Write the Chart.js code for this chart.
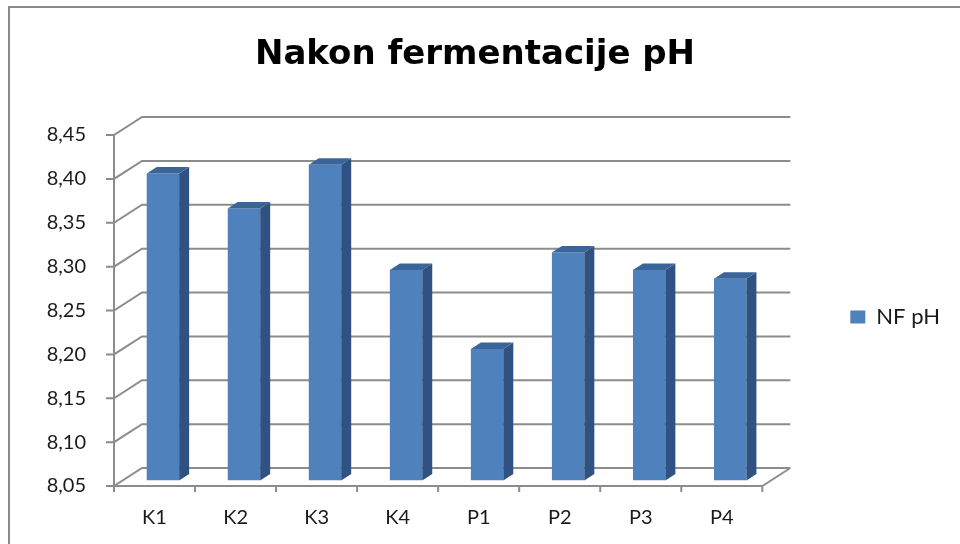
<!DOCTYPE html>
<html>
<head>
<meta charset="utf-8">
<script src="https://cdn.jsdelivr.net/npm/chart.js@4.4.0/dist/chart.umd.min.js"></script>
<style>
  html, body { margin: 0; padding: 0; background: #fff; }
  #wrap { position: relative; width: 960px; height: 544px; }
  #frame { position: absolute; left: 8px; top: 6px; right: 0; bottom: 0; border-top: 2px solid #8a8a8a; border-left: 2px solid #8a8a8a; pointer-events: none; }
</style>
</head>
<body>
<div id="wrap">
  <canvas id="myBarChart" width="960" height="544"></canvas>
  <div id="frame"></div>
</div>
<script>
let categories = ['K1', 'K2', 'K3', 'K4', 'P1', 'P2', 'P3', 'P4'];
let nfPh = [8.40, 8.36, 8.41, 8.29, 8.20, 8.31, 8.29, 8.28];
let yTicks = [8.05, 8.10, 8.15, 8.20, 8.25, 8.30, 8.35, 8.40, 8.45];

// fake 3d: back wall offset, bar offset and bar depth
const depthX = 28, depthY = 18;
const shiftX = 8.4, shiftY = -5.4;
const barDX = 10, barDY = 6.5;
const gridColor = '#8c8c8c';
const textColor = '#1a1a1a';

let box3d = {
    id: 'box3d',
    beforeDatasetsDraw(chart) {
        let c = chart.ctx, a = chart.chartArea, y = chart.scales.y;
        c.save();
        c.strokeStyle = gridColor;
        c.lineWidth = 2;
        c.beginPath();
        yTicks.forEach(v => {
            let py = y.getPixelForValue(v);
            c.moveTo(a.left - 8, py);
            c.lineTo(a.left, py);
            c.lineTo(a.left + depthX, py - depthY);
            c.lineTo(a.right + depthX, py - depthY);
        });
        c.moveTo(a.left, a.top);
        c.lineTo(a.left, a.bottom);
        c.lineTo(a.right, a.bottom);
        c.lineTo(a.right + depthX, a.bottom - depthY);
        for (let i = 0; i <= categories.length; i++) {
            let px = a.left + i * (a.right - a.left) / categories.length;
            c.moveTo(px, a.bottom);
            c.lineTo(px, a.bottom + 6);
        }
        c.stroke();
        c.restore();
        c.save();
        c.translate(shiftX, shiftY);
    },
    afterDatasetsDraw(chart) {
        let c = chart.ctx;
        c.restore();
        chart.getDatasetMeta(0).data.forEach(bar => {
            let l = bar.x - bar.width / 2 + shiftX, r = bar.x + bar.width / 2 + shiftX;
            let t = bar.y + shiftY, b = Math.min(bar.base, chart.chartArea.bottom) + shiftY;
            c.fillStyle = '#2f5282';
            c.beginPath();
            c.moveTo(r, t);
            c.lineTo(r + barDX, t - barDY);
            c.lineTo(r + barDX, b - barDY);
            c.lineTo(r, b);
            c.closePath();
            c.fill();
            c.fillStyle = '#3b6598';
            c.beginPath();
            c.moveTo(l, t);
            c.lineTo(l + barDX, t - barDY);
            c.lineTo(r + barDX, t - barDY);
            c.lineTo(r, t);
            c.closePath();
            c.fill();
        });
    }
};

let ctx = document.getElementById('myBarChart').getContext('2d');
let myBarChart = new Chart(ctx, {
    type: 'bar',
    data: {
        labels: categories,
        datasets: [{
            label: 'NF pH',
            data: nfPh,
            base: yTicks[0],
            backgroundColor: '#4f81bd',
            categoryPercentage: 0.4,
            barPercentage: 1,
        }]
    },
    options: {
        responsive: false,
        animation: false,
        layout: { padding: { left: 0, right: 10, top: 0, bottom: 14 } },
        plugins: {
            title: {
                display: true,
                text: 'Nakon fermentacije pH',
                color: '#000',
                font: { family: 'DejaVu Sans', size: 34, weight: 'bold' },
                padding: { top: 35, bottom: 59.2 },
            },
            legend: {
                position: 'right',
                fullSize: false,
                title: { display: true, text: '', font: { size: 13, lineHeight: 1 }, padding: 0 },
                labels: {
                    boxWidth: 15,
                    boxHeight: 13,
                    padding: 10,
                    color: textColor,
                    font: { family: 'Lato', size: 22 },
                },
            },
            tooltip: { enabled: false },
        },
        scales: {
            x: {
                grid: { display: false, drawTicks: false },
                border: { display: false },
                afterFit: s => { s.height = 44; },
                ticks: { color: textColor, padding: 20, font: { family: 'Lato', size: 20 } },
            },
            y: {
                min: 8.05,
                max: 8.45,
                grid: { display: false, drawTicks: false },
                border: { display: false },
                afterFit: s => { s.width = 114; },
                afterBuildTicks: s => { s.ticks = yTicks.map(v => ({ value: v })); },
                ticks: {
                    color: textColor,
                    padding: 28,
                    font: { family: 'Lato', size: 20 },
                    callback: v => v.toFixed(2).replace('.', ','),
                },
            },
            spacer: {
                position: 'right',
                display: true,
                grid: { display: false, drawTicks: false },
                border: { display: false },
                ticks: { display: false },
                afterFit: s => { s.width = 78; },
            },
        }
    },
    plugins: [box3d],
});
</script>
</body>
</html>
